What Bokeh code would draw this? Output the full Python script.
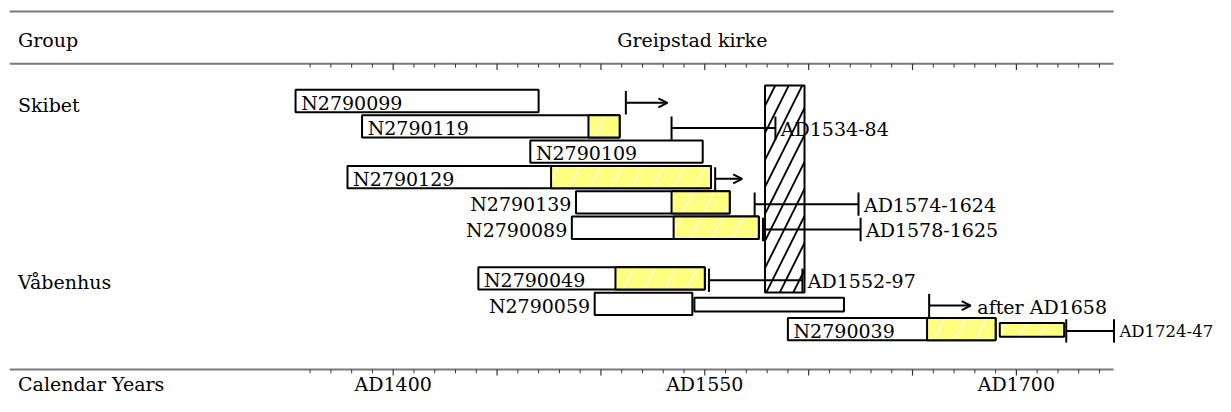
from bokeh.plotting import figure
from bokeh.models import ColumnDataSource, Range1d, Arrow, OpenHead
from bokeh.core.properties import value
from bokeh.embed import file_html
from bokeh.resources import INLINE

# ---------------- data ----------------
names = ["N2790099", "N2790119", "N2790109", "N2790129", "N2790139",
         "N2790089", "N2790049", "N2790059", "N2790039"]
rows = [0, 1, 2, 3, 4, 5, 7, 8, 9]
start_year = [1353, 1385, 1466, 1378, 1488, 1486, 1441, 1497, 1590]
end_year = [1470, 1509, 1549, 1553, 1562, 1576, 1550, 1544, 1690]
sap_start = [None, 1494, None, 1476, 1534, 1535, 1507, None, 1657]
label_inside = [True, True, True, True, False, False, True, False, True]

# secondary thin segments
extra_rows = [8, 9]
extra_start = [1545, 1692]
extra_end = [1617, 1723]
extra_sap = [False, True]

# felling date ranges
range_rows = [1, 4, 5, 7, 9]
range_from = [1534, 1574, 1578, 1552, 1724]
range_to = [1584, 1624, 1625, 1597, 1747]
range_labels = ["AD1534-84", "AD1574-1624", "AD1578-1625", "AD1552-97", "AD1724-47"]

# "after" arrows
after_rows = [0, 3, 8]
after_from = [1512, 1555, 1658]
after_to = [1532, 1568, 1678]
after_labels = ["", "", "after AD1658"]

# hatched construction period
period_start = 1579
period_end = 1598

groups = ["Skibet", "Våbenhus"]
group_rows = [0, 7]

header_left = "Group"
header_title = "Greipstad kirke"
axis_title = "Calendar Years"
major_ticks = [1400, 1450, 1500, 1550, 1600, 1650, 1700]
minor_ticks = list(range(1360, 1741, 10))
tick_labels = {1400: "AD1400", 1550: "AD1550", 1700: "AD1700"}

# ---------------- layout constants ----------------
FONT = value("DejaVu Serif")
FS = value("19px")
X0, X1 = 1210.96, 1795.85
YB, YT = 11.657, -3.9645
BH = 0.44          # half bar height (rows)
LOFF = 0.07        # line offset below centre (rows)
TK = 0.46          # half height of range ticks
col_x = 1219.4
rule_x0, rule_x1 = 1215.4, 1746.8
rule_top, rule_mid, rule_bot = -3.531, -1.4675, 10.592
header_y = -2.40
bottom_y = 11.18
pad = 2.7           # label padding in years

p = figure(width=1215, height=396, x_range=Range1d(X0, X1), y_range=Range1d(YB, YT),
           output_backend="svg", toolbar_location=None, min_border=0,
           x_axis_location=None, y_axis_location=None)
p.grid.visible = False
p.outline_line_color = None
p.background_fill_color = "white"

# rules
p.segment(x0=[rule_x0] * 3, x1=[rule_x1] * 3, y0=[rule_top, rule_mid, rule_bot],
          y1=[rule_top, rule_mid, rule_bot], line_color="#7a7a7a", line_width=2)

# ticks
maj_len, min_len = 0.24, 0.15
minor_only = [t for t in minor_ticks if t not in major_ticks]
for base in (rule_mid, rule_bot):
    p.segment(x0=minor_only, x1=minor_only, y0=[base] * len(minor_only),
              y1=[base + min_len] * len(minor_only), line_color="#333333", line_width=1)
    p.segment(x0=major_ticks, x1=major_ticks, y0=[base] * len(major_ticks),
              y1=[base + maj_len] * len(major_ticks), line_color="#333333", line_width=1.2)

# hatched period box
p.quad(left=[period_start], right=[period_end], top=[-0.61], bottom=[7.55],
       fill_color="white", line_color="black", line_width=2,
       hatch_pattern="/", hatch_color="black", hatch_scale=27, hatch_weight=1.8)

# bars
bar_src = ColumnDataSource(dict(
    left=start_year, right=end_year,
    top=[r - BH for r in rows], bottom=[r + BH for r in rows]))
p.quad(source=bar_src, left="left", right="right", top="top", bottom="bottom",
       fill_color="white", line_color="black", line_width=2)

sap_idx = [i for i, s in enumerate(sap_start) if s is not None]
sap_src = ColumnDataSource(dict(
    left=[sap_start[i] for i in sap_idx], right=[end_year[i] for i in sap_idx],
    top=[rows[i] - BH for i in sap_idx], bottom=[rows[i] + BH for i in sap_idx]))
p.quad(source=sap_src, left="left", right="right", top="top", bottom="bottom",
       fill_color="#ffff80", line_color="black", line_width=2,
       hatch_pattern="/", hatch_color="white", hatch_scale=42, hatch_weight=1.2, hatch_alpha=0.9)

# extra thin segments
EH = 0.27
p.quad(left=extra_start, right=extra_end,
       top=[r + 0.03 - EH for r in extra_rows], bottom=[r + 0.03 + EH for r in extra_rows],
       fill_color=["#ffff80" if s else "white" for s in extra_sap], line_color="black", line_width=2,
       hatch_pattern=["/" if s else " " for s in extra_sap], hatch_color="white",
       hatch_scale=42, hatch_weight=1.2, hatch_alpha=0.9)

# bar labels
in_idx = [i for i, f in enumerate(label_inside) if f]
out_idx = [i for i, f in enumerate(label_inside) if not f]
p.text(x=[start_year[i] + pad for i in in_idx], y=[rows[i] + 0.07 for i in in_idx],
       text=[names[i] for i in in_idx], text_font=FONT, text_font_size=FS,
       text_align="left", text_baseline="middle", text_color="black")
p.text(x=[start_year[i] - 2.2 for i in out_idx], y=[rows[i] + 0.07 for i in out_idx],
       text=[names[i] for i in out_idx], text_font=FONT, text_font_size=FS,
       text_align="right", text_baseline="middle", text_color="black")

# felling ranges
ry = [r + LOFF for r in range_rows]
p.segment(x0=range_from, x1=range_to, y0=ry, y1=ry, line_color="black", line_width=2)
p.segment(x0=range_from, x1=range_from, y0=[y - TK for y in ry], y1=[y + TK for y in ry],
          line_color="black", line_width=2)
p.segment(x0=range_to, x1=range_to, y0=[y - TK for y in ry], y1=[y + TK for y in ry],
          line_color="black", line_width=2)
range_label_src = ColumnDataSource(dict(
    x=[t + 2.6 for t in range_to], y=[y + 0.02 for y in ry], text=range_labels,
    size=["16.5px" if t + 60 > X1 else "19px" for t in range_to]))
p.text(source=range_label_src, x="x", y="y", text="text", text_font=FONT,
       text_font_size="size", text_align="left", text_baseline="middle", text_color="black")

# after arrows
ay = [r + LOFF for r in after_rows]
p.segment(x0=after_from, x1=after_from, y0=[y - TK for y in ay], y1=[y + TK for y in ay],
          line_color="black", line_width=2)
arr_src = ColumnDataSource(dict(x0=after_from, x1=after_to, y=ay))
p.add_layout(Arrow(source=arr_src, x_start="x0", x_end="x1", y_start="y", y_end="y",
                   line_color="black", line_width=2,
                   end=OpenHead(size=9, line_color="black", line_width=2)))
p.text(x=[t + 3.2 for t in after_to], y=[y + 0.04 for y in ay], text=after_labels,
       text_font=FONT, text_font_size=FS, text_align="left", text_baseline="middle",
       text_color="black")

# headers and group labels
p.text(x=[col_x], y=[header_y], text=[header_left], text_font=FONT, text_font_size=FS,
       text_baseline="middle", text_color="black")
p.text(x=[1544.0], y=[header_y], text=[header_title], text_font=FONT, text_font_size=FS,
       text_align="center", text_baseline="middle", text_color="black")
p.text(x=[col_x] * len(groups), y=[r + 0.155 for r in group_rows], text=groups,
       text_font=FONT, text_font_size=FS, text_baseline="middle", text_color="black")
p.text(x=[col_x], y=[bottom_y], text=[axis_title], text_font=FONT, text_font_size=FS,
       text_baseline="middle", text_color="black")
p.text(x=list(tick_labels.keys()), y=[bottom_y] * len(tick_labels), text=list(tick_labels.values()),
       text_font=FONT, text_font_size=FS, text_align="center", text_baseline="middle",
       text_color="black")

open("out.html", "w").write(file_html(p, INLINE))
